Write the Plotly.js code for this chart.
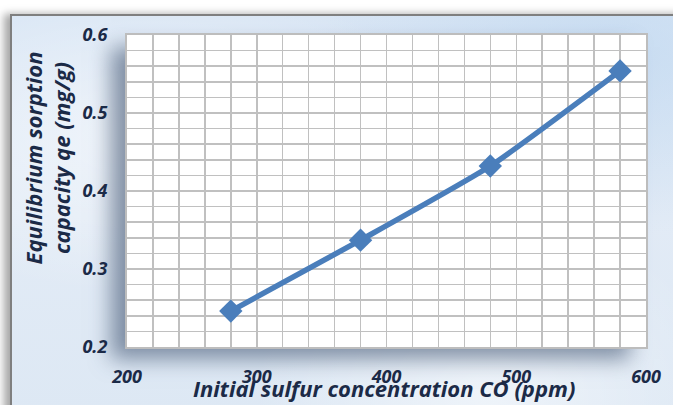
<!DOCTYPE html>
<html>
<head>
<meta charset="utf-8">
<script src="https://cdn.plot.ly/plotly-3.0.1.min.js"></script>
<style>
  html, body { margin:0; padding:0; background:#ffffff; width:673px; height:405px; overflow:hidden; }
  #frame {
    position:absolute; left:10px; top:14px; width:680px; height:400px;
    border-left:2px solid #7f7f7f; border-top:2px solid #7f7f7f;
    box-shadow:-6px 0 8px rgba(0,0,0,0.35);
    background:
      radial-gradient(ellipse at 20% 30%, rgba(255,255,255,0.55), rgba(255,255,255,0) 40%),
      radial-gradient(ellipse at 70% 95%, rgba(255,255,255,0.5), rgba(255,255,255,0) 35%),
      radial-gradient(ellipse at 90% 10%, rgba(190,215,240,0.6), rgba(190,215,240,0) 35%),
      linear-gradient(180deg, #d9e6f5 0%, #e2ebf6 50%, #dde8f4 100%);
  }
  #pshadow {
    position:absolute; left:127px; top:35px; width:519px; height:312px;
    box-shadow:-16px 12px 20px rgba(60,80,110,0.6);
    background:#fff;
  }
  #chart { position:absolute; left:0; top:0; width:673px; height:405px; }
</style>
</head>
<body>
<div id="frame"></div>
<div id="pshadow"></div>
<div id="chart"></div>
<script>
const concentration = [280, 380, 480, 580];
const capacity = [0.246, 0.337, 0.432, 0.554];
const xTicks = [200, 300, 400, 500, 600];
const yTicks = [0.2, 0.3, 0.4, 0.5, 0.6];
const xTitle = 'Initial sulfur concentration CO (ppm)';
const yTitle = 'Equilibrium sorption<br>capacity qe (mg/g)';

const FONT = '"Open Sans", Lato, sans-serif';
const INK = '#1b2a47';
const BLUE = '#4a7ebb';

const trace = {
  x: concentration, y: capacity, type: 'scatter', mode: 'lines+markers',
  line: { color: BLUE, width: 5.5, shape: 'spline', smoothing: 0.5 },
  marker: { symbol: 'diamond', size: 18, color: BLUE },
  hoverinfo: 'skip', showlegend: false
};

const layout = {
  width: 673, height: 405,
  margin: { l: 127, r: 27, t: 35, b: 58 },
  paper_bgcolor: 'rgba(0,0,0,0)',
  plot_bgcolor: '#ffffff',
  font: { family: FONT, color: INK },
  xaxis: {
    range: [200, 600], tickvals: xTicks, ticktext: xTicks.map(String),
    showgrid: true, gridcolor: '#c0c0c0', gridwidth: 1.5,
    minor: { dtick: 20, showgrid: true, gridcolor: '#c0c0c0', gridwidth: 1.5 },
    showline: true, linecolor: '#bdbdbd', linewidth: 2, mirror: true,
    zeroline: false, ticks: '', ticklabelstandoff: 12,
    tickfont: { family: FONT, size: 18, color: INK, weight: 'bold', style: 'italic' },
    title: { text: '' }
  },
  yaxis: {
    range: [0.2, 0.6], tickvals: yTicks, ticktext: yTicks.map(v => v.toFixed(1)),
    showgrid: true, gridcolor: '#c0c0c0', gridwidth: 1.5,
    minor: { dtick: 0.02, showgrid: true, gridcolor: '#c0c0c0', gridwidth: 1.5 },
    showline: true, linecolor: '#bdbdbd', linewidth: 2, mirror: true,
    zeroline: false, ticks: '', ticklabelstandoff: 14,
    tickfont: { family: FONT, size: 18, color: INK, weight: 'bold', style: 'italic' },
    title: { text: '' }
  },
  annotations: [
    { text: xTitle, xref: 'paper', yref: 'paper', x: 0.495, y: -0.132, xanchor: 'center', yanchor: 'middle',
      showarrow: false, font: { family: FONT, size: 22, color: INK, weight: 'bold', style: 'italic' } },
    { text: yTitle, xref: 'paper', yref: 'paper', x: -0.153, y: 0.606, xanchor: 'center', yanchor: 'middle',
      textangle: -90, showarrow: false,
      font: { family: FONT, size: 22, color: INK, weight: 'bold', style: 'italic' } }
  ]
};

Plotly.newPlot('chart', [trace], layout, { displayModeBar: false, staticPlot: true });
</script>
</body>
</html>
